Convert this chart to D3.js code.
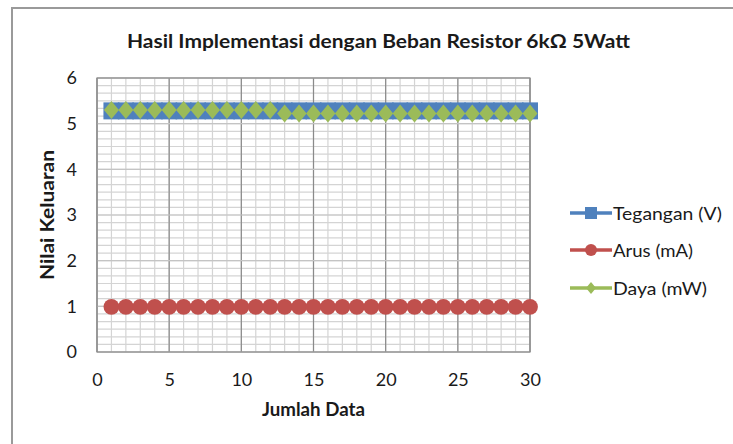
<!DOCTYPE html>
<html><head><meta charset="utf-8">
<script src="https://cdn.jsdelivr.net/npm/d3@7"></script>
<style>body{margin:0;background:#fff}svg{display:block}text{font-family:Lato,"Open Sans",sans-serif;fill:#1a1a1a}</style>
</head><body><svg id="c" width="733" height="444"></svg>
<script>
const xValues = d3.range(1, 31);
const tegangan = [5.28,5.28,5.28,5.28,5.28,5.28,5.28,5.28,5.28,5.28,5.28,5.28,5.28,5.28,5.28,5.28,5.28,5.28,5.28,5.28,5.28,5.28,5.28,5.28,5.28,5.28,5.28,5.28,5.28,5.28];
const arus = [0.99,0.99,0.99,0.99,0.99,0.99,0.99,0.99,0.99,0.99,0.99,0.99,0.99,0.99,0.99,0.99,0.99,0.99,0.99,0.99,0.99,0.99,0.99,0.99,0.99,0.99,0.99,0.99,0.99,0.99];
const daya = [5.30,5.30,5.30,5.30,5.30,5.30,5.30,5.30,5.30,5.30,5.30,5.30,5.22,5.22,5.22,5.22,5.22,5.22,5.22,5.22,5.22,5.22,5.22,5.22,5.22,5.22,5.22,5.22,5.22,5.22];
const seriesNames = ["Tegangan (V)", "Arus (mA)", "Daya (mW)"];
const xTicks = [0,5,10,15,20,25,30];
const yTicks = [0,1,2,3,4,5,6];
const title = "Hasil Implementasi dengan Beban Resistor 6k\u03A9 5Watt";
const xTitle = "Jumlah Data", yTitle = "Nilai Keluaran";

const svg = d3.select("#c");
const L = 97, R = 530, T = 78, B = 352;
const x = d3.scaleLinear().domain([0,30]).range([L,R]);
const y = d3.scaleLinear().domain([0,6]).range([B,T]);

// outer frame
svg.append("rect").attr("x",12).attr("y",8).attr("width",800).attr("height",500)
  .attr("fill","none").attr("stroke","#9a9a9a").attr("stroke-width",2);

// minor gridlines
const g = svg.append("g");
g.selectAll(".vx").data(d3.range(0,31)).join("line")
  .attr("x1",d=>x(d)).attr("x2",d=>x(d)).attr("y1",T).attr("y2",B)
  .attr("stroke","#d4d4d4").attr("stroke-width",1.2);
g.selectAll(".hy").data(d3.range(0,37).map(i=>i/6)).join("line")
  .attr("y1",d=>y(d)).attr("y2",d=>y(d)).attr("x1",L).attr("x2",R)
  .attr("stroke","#d4d4d4").attr("stroke-width",1.2);
// major gridlines
g.selectAll(".mx").data(xTicks).join("line")
  .attr("x1",d=>x(d)).attr("x2",d=>x(d)).attr("y1",T).attr("y2",B)
  .attr("stroke","#8a8a8a").attr("stroke-width",1.2);
g.selectAll(".my").data(yTicks).join("line")
  .attr("y1",d=>y(d)).attr("y2",d=>y(d)).attr("x1",L).attr("x2",R)
  .attr("stroke","#c4c4c4").attr("stroke-width",1.2);
// plot border
svg.append("rect").attr("x",L).attr("y",T).attr("width",R-L).attr("height",B-T)
  .attr("fill","none").attr("stroke","#8a8a8a").attr("stroke-width",1.2);

// axes labels
const xAxis = d3.axisBottom(x).tickValues(xTicks).tickFormat(d3.format("d")).tickSize(0).tickPadding(21);
const xa = svg.append("g").attr("transform",`translate(0,${B})`).call(xAxis);
xa.select(".domain").remove();
xa.selectAll("text").style("font-size","18px").style("font-family","Lato").attr("fill","#1a1a1a");
const yAxis = d3.axisLeft(y).tickValues(yTicks).tickFormat(d3.format("d")).tickSize(0).tickPadding(20);
const ya = svg.append("g").attr("transform",`translate(${L},0)`).call(yAxis);
ya.select(".domain").remove();
ya.selectAll("text").style("font-size","18px").style("font-family","Lato").attr("fill","#1a1a1a");

// series
const colors = ["#4F81BD","#C0504D","#9BBB59"];
const data = [tegangan, arus, daya];
const line = d3.line().x((d,i)=>x(xValues[i])).y(d=>y(d));
data.forEach((s,k)=>{
  svg.append("path").attr("d",line(s)).attr("fill","none").attr("stroke",colors[k]).attr("stroke-width",3.5);
});
// markers
svg.append("g").selectAll("rect").data(tegangan).join("rect")
  .attr("x",(d,i)=>x(xValues[i])-8).attr("y",d=>y(d)-8.5).attr("width",16).attr("height",17)
  .attr("fill",colors[0]);
svg.append("g").selectAll("circle").data(arus).join("circle")
  .attr("cx",(d,i)=>x(xValues[i])).attr("cy",d=>y(d)).attr("r",7.9).attr("fill",colors[1]);
svg.append("g").selectAll("path").data(daya).join("path")
  .attr("d",(d,i)=>{const cx=x(xValues[i]),cy=y(d);return `M${cx},${cy-9}L${cx+7.5},${cy}L${cx},${cy+9}L${cx-7.5},${cy}Z`;})
  .attr("fill",colors[2]);

// title
svg.append("text").attr("x",378.5).attr("y",48).attr("text-anchor","middle")
  .style("font-size","18px").style("font-weight","bold").text(title)
  .attr("textLength",503).attr("lengthAdjust","spacingAndGlyphs");
svg.append("text").attr("x",313.5).attr("y",416).attr("text-anchor","middle")
  .style("font-size","18px").style("font-weight","bold").text(xTitle)
  .attr("textLength",103).attr("lengthAdjust","spacingAndGlyphs");
svg.append("text").attr("transform","translate(54,215) rotate(-90)").attr("text-anchor","middle")
  .style("font-size","18px").style("font-weight","bold").text(yTitle)
  .attr("textLength",130).attr("lengthAdjust","spacingAndGlyphs");

// legend
const leg = svg.append("g");
const ly = [213, 250, 288];
const lw = [109, 80, 94];
seriesNames.forEach((n,k)=>{
  const gg = leg.append("g").attr("transform",`translate(0,${ly[k]})`);
  gg.append("line").attr("x1",570).attr("x2",612).attr("stroke",colors[k]).attr("stroke-width",3.5);
  if(k===0) gg.append("rect").attr("x",585).attr("y",-6).attr("width",12).attr("height",12).attr("fill",colors[0]);
  if(k===1) gg.append("circle").attr("cx",591).attr("cy",0).attr("r",6).attr("fill",colors[1]);
  if(k===2) gg.append("path").attr("d","M591,-6L596,0L591,6L586,0Z").attr("fill",colors[2]);
  gg.append("text").attr("x",613).attr("y",6.5).style("font-size","18px").text(n)
    .attr("textLength",lw[k]).attr("lengthAdjust","spacingAndGlyphs");
});
</script></body></html>
